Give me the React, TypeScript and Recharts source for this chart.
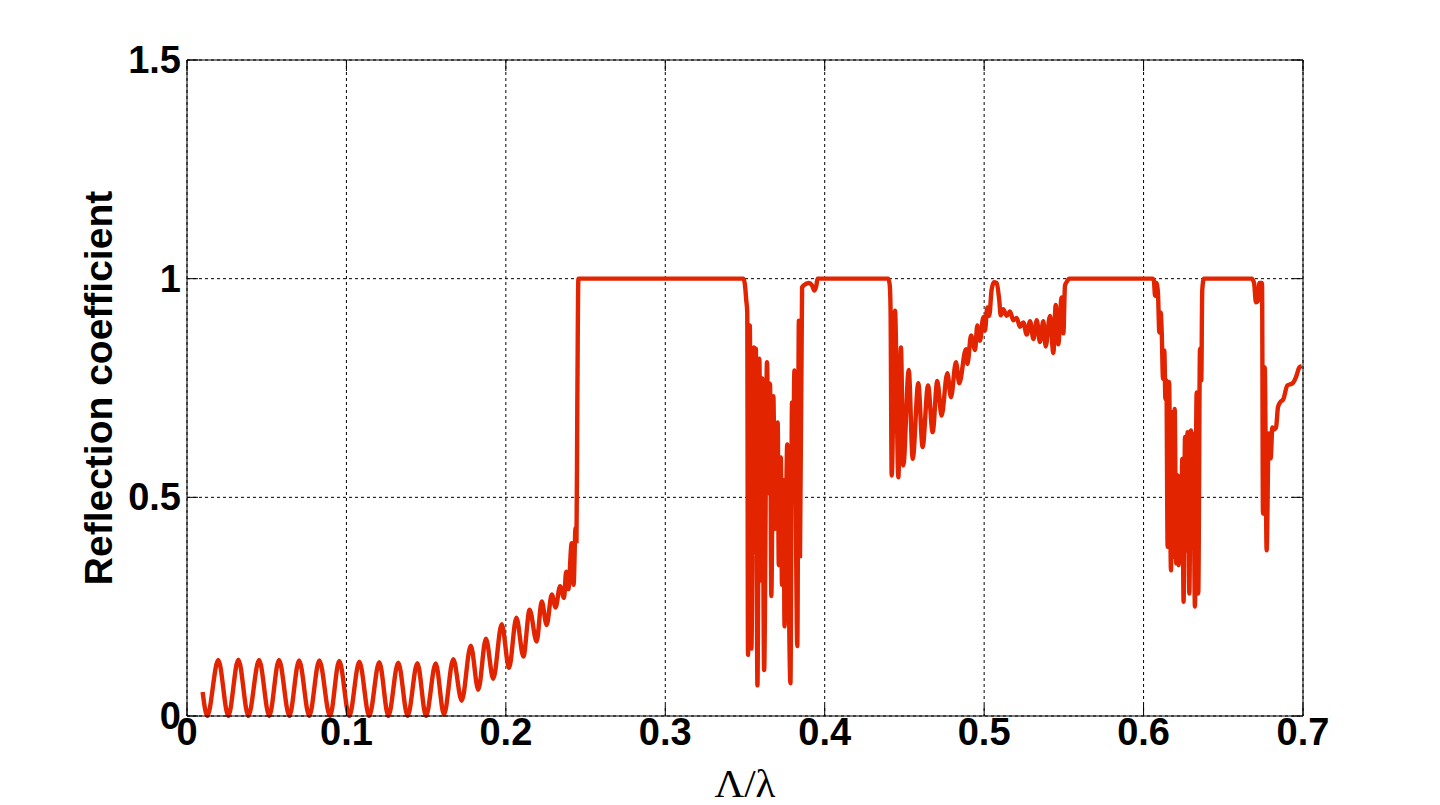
import { LineChart, Line, XAxis, YAxis, CartesianGrid, ReferenceLine, Label } from "recharts";

// [Λ/λ, reflection coefficient] pairs, one array per feature
const rippleBand: [number, number][] = [
  [0.0098, 0.055], [0.0127, 0], [0.0196, 0.128], [0.0259, 0], [0.0322, 0.129],
  [0.0385, 0], [0.0452, 0.128], [0.0516, 0], [0.0577, 0.128], [0.0642, 0],
  [0.0703, 0.127], [0.0767, 0], [0.083, 0.127], [0.0897, 0], [0.0955, 0.126],
  [0.1018, 0], [0.1081, 0.124], [0.1143, 0], [0.1206, 0.123], [0.1263, 0],
  [0.1325, 0.122], [0.1384, 0], [0.1445, 0.121], [0.1499, 0], [0.156, 0.12],
  [0.1612, 0.003], [0.167, 0.13], [0.1723, 0.035], [0.178, 0.161], [0.1827, 0.06],
  [0.1875, 0.177], [0.1921, 0.085], [0.1974, 0.21], [0.202, 0.11], [0.2066, 0.225],
  [0.211, 0.136], [0.2149, 0.243], [0.2193, 0.17], [0.2225, 0.262], [0.2256, 0.208],
  [0.2288, 0.278], [0.2312, 0.248], [0.234, 0.297], [0.2365, 0.27], [0.2378, 0.33],
  [0.2392, 0.29], [0.2413, 0.395], [0.2425, 0.3], [0.2437, 0.43], [0.2443, 0.4],
  [0.2448, 0.7], [0.2455, 1.0],
];

const firstDip: [number, number][] = [
  [0.349, 1.0], [0.35, 0.985], [0.3508, 0.95], [0.3514, 0.925], [0.3519, 0.14],
  [0.353, 0.893], [0.354, 0.154], [0.3556, 0.843], [0.3563, 0.455], [0.3568, 0.84],
  [0.3578, 0.07], [0.359, 0.817], [0.36, 0.31], [0.3608, 0.772], [0.362, 0.105],
  [0.3638, 0.809], [0.365, 0.509], [0.3657, 0.76], [0.3665, 0.274], [0.3678, 0.731],
  [0.3688, 0.428], [0.3705, 0.671], [0.3712, 0.345], [0.3725, 0.591], [0.3732, 0.3],
  [0.3742, 0.539], [0.3748, 0.205], [0.3765, 0.621], [0.3772, 0.379], [0.3785, 0.075],
  [0.3795, 0.717], [0.38, 0.489], [0.381, 0.79], [0.3828, 0.16], [0.3838, 0.904],
  [0.3845, 0.366], [0.3858, 0.98], [0.387, 0.985], [0.39, 0.99], [0.392, 0.985],
  [0.3935, 0.973], [0.3948, 0.985], [0.3955, 1.0],
];

const secondDip: [number, number][] = [
  [0.4399, 1.0], [0.4408, 0.985], [0.4413, 0.93], [0.442, 0.55], [0.4441, 0.927],
  [0.4462, 0.546], [0.4478, 0.843], [0.4493, 0.573], [0.4527, 0.791], [0.4552, 0.588],
  [0.4587, 0.761], [0.4614, 0.615], [0.4648, 0.756], [0.4677, 0.649], [0.4706, 0.766],
  [0.4733, 0.687], [0.4769, 0.784], [0.4792, 0.729], [0.4823, 0.809], [0.4844, 0.761],
  [0.4886, 0.839], [0.4895, 0.805], [0.4918, 0.87], [0.4943, 0.837], [0.4957, 0.893],
  [0.4974, 0.858], [0.4995, 0.912], [0.5005, 0.881], [0.502, 0.934], [0.5032, 0.915],
  [0.5047, 0.975], [0.5062, 0.992], [0.5079, 0.99], [0.5095, 0.95], [0.5104, 0.916],
  [0.512, 0.93], [0.5141, 0.915], [0.5162, 0.925], [0.5183, 0.905], [0.5204, 0.91],
  [0.5225, 0.89], [0.5246, 0.9], [0.5267, 0.872], [0.5288, 0.903], [0.5309, 0.862],
  [0.533, 0.905], [0.535, 0.855], [0.5371, 0.903], [0.5386, 0.845], [0.5413, 0.915],
  [0.5434, 0.83], [0.5449, 0.94], [0.5465, 0.85], [0.5486, 0.957], [0.5497, 0.875],
  [0.5507, 0.984], [0.5522, 0.995], [0.5532, 1.0],
];

const thirdDip: [number, number][] = [
  [0.6057, 1.0], [0.6065, 0.995], [0.6072, 0.961], [0.608, 0.99], [0.609, 0.969],
  [0.6099, 0.877], [0.6107, 0.923], [0.6114, 0.877], [0.6122, 0.771], [0.613, 0.836],
  [0.6137, 0.725], [0.6143, 0.767], [0.6151, 0.387], [0.616, 0.764], [0.6172, 0.333],
  [0.6182, 0.695], [0.6188, 0.364], [0.6195, 0.702], [0.6205, 0.349], [0.6214, 0.55],
  [0.622, 0.345], [0.6228, 0.462], [0.6234, 0.379], [0.6243, 0.588], [0.6251, 0.261],
  [0.626, 0.638], [0.6268, 0.379], [0.6276, 0.649], [0.6287, 0.28], [0.6297, 0.653],
  [0.6304, 0.463], [0.6312, 0.645], [0.6322, 0.25], [0.6333, 0.74], [0.6343, 0.28],
  [0.6354, 0.84], [0.6362, 0.767], [0.6368, 0.973], [0.6378, 1.0],
];

const tail: [number, number][] = [
  [0.6678, 1.0], [0.6693, 0.99], [0.6705, 0.946], [0.6718, 0.95], [0.6726, 0.99],
  [0.6743, 0.99], [0.6749, 0.463], [0.676, 0.797], [0.6772, 0.379], [0.6785, 0.646],
  [0.6797, 0.589], [0.6808, 0.66], [0.6818, 0.655], [0.6831, 0.66], [0.6843, 0.706],
  [0.6856, 0.717], [0.6877, 0.725], [0.6902, 0.756], [0.6935, 0.761], [0.6956, 0.775],
  [0.6977, 0.797], [0.6992, 0.8],
];

const xTicks = [0, 0.1, 0.2, 0.3, 0.4, 0.5, 0.6, 0.7];
const yTicks = [0, 0.5, 1, 1.5];

const data = [...rippleBand, ...firstDip, ...secondDip, ...thirdDip, ...tail].map(
  ([x, y]) => ({ x, y })
);

// plot box in page pixels
const PLOT = { left: 187, right: 1303, top: 60, bottom: 716 };
const TICK_LEN = 11;

const tickFont = {
  fontFamily: "'Liberation Sans', Arial, sans-serif",
  fontWeight: 700,
  fontSize: 38,
  fill: "#000",
};

function XTick({ x, payload }: any) {
  return (
    <g>
      <line x1={x} x2={x} y1={PLOT.bottom} y2={PLOT.bottom - TICK_LEN} stroke="#000" />
      <line x1={x} x2={x} y1={PLOT.top} y2={PLOT.top + TICK_LEN} stroke="#000" />
      <text x={x} y={PLOT.bottom + 29} textAnchor="middle" style={tickFont}>
        {String(payload.value)}
      </text>
    </g>
  );
}

function YTick({ y, payload }: any) {
  return (
    <g>
      <line x1={PLOT.left} x2={PLOT.left + TICK_LEN} y1={y} y2={y} stroke="#000" />
      <line x1={PLOT.right} x2={PLOT.right - TICK_LEN} y1={y} y2={y} stroke="#000" />
      <text x={PLOT.left - 6} y={y + 13} textAnchor="end" style={tickFont}>
        {String(payload.value)}
      </text>
    </g>
  );
}

export default function App() {
  return (
    <div style={{ position: "absolute", left: 0, top: 0, width: 1440, height: 805, background: "#fff" }}>
      <LineChart
        width={1440}
        height={805}
        data={data}
        margin={{ top: PLOT.top, right: 1440 - PLOT.right, bottom: 29, left: 67 }}
      >
        <CartesianGrid stroke="#000" strokeDasharray="3 3" strokeWidth={1} />
        <XAxis
          dataKey="x"
          type="number"
          domain={[0, 0.7]}
          ticks={xTicks}
          height={60}
          tickSize={0}
          tickMargin={0}
          tickLine={false}
          tick={<XTick />}
          axisLine={{ stroke: "#000", strokeWidth: 1 }}
          interval={0}
        >
          <Label
            content={() => (
              <text
                x={745}
                y={797}
                textAnchor="middle"
                style={{ fontFamily: "'Liberation Serif', 'Times New Roman', serif", fontSize: 41, fill: "#000" }}
              >
                Λ/λ
              </text>
            )}
          />
        </XAxis>
        <YAxis
          type="number"
          domain={[0, 1.5]}
          ticks={yTicks}
          width={120}
          tickSize={0}
          tickMargin={0}
          tickLine={false}
          tick={<YTick />}
          axisLine={{ stroke: "#000", strokeWidth: 1 }}
          interval={0}
        >
          <Label
            content={() => (
              <text
                x={112}
                y={388}
                transform="rotate(-90 112 388)"
                textAnchor="middle"
                style={{ ...tickFont, fontSize: 39 }}
              >
                Reflection coefficient
              </text>
            )}
          />
        </YAxis>
        <ReferenceLine y={1.5} stroke="#000" strokeWidth={1} />
        <ReferenceLine x={0.7} stroke="#000" strokeWidth={1} />
        <Line
          type="monotone"
          dataKey="y"
          stroke="#e32400"
          strokeWidth={4.4}
          dot={false}
          activeDot={false}
          isAnimationActive={false}
        />
      </LineChart>
    </div>
  );
}
